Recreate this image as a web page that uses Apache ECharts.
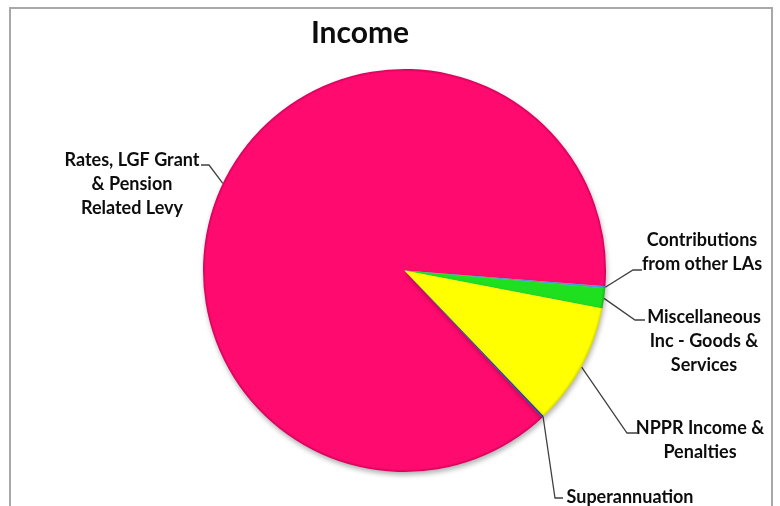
<!DOCTYPE html>
<html>
<head>
<meta charset="utf-8">
<script src="https://cdn.jsdelivr.net/npm/echarts@6/dist/echarts.min.js"></script>
<style>
  html, body { margin: 0; padding: 0; background: #fff; }
  #chart { width: 780px; height: 506px; }
</style>
</head>
<body>
<div id="chart"></div>
<script>
// Income breakdown (share of total, %)
const categories = [
  'Rates, LGF Grant\n& Pension\nRelated Levy',
  'Contributions\nfrom other LAs',
  'Miscellaneous\nInc - Goods &\nServices',
  'NPPR Income &\nPenalties',
  'Superannuation'
];
const shares = [88.25, 0.17, 1.6, 9.85, 0.14];
const sliceColors = ['#FF0A6E', '#4A9BDB', '#1EE01E', '#FFFF00', '#1F3FA0'];
const rimColors = ['#D0005A', '#2F78B8', '#14B014', '#D8D800', '#162E7A'];

// Where each label block sits (centre x, top y) and where its leader meets the text
const labelSpots = [
  { x: 132, y: 148, ex: 201, ey: 165, elbow: 8 },
  { x: 702, y: 228, ex: 642, ey: 270, elbow: -9 },
  { x: 704, y: 305, ex: 645, ey: 320, elbow: -10 },
  { x: 700, y: 416, ex: 637, ey: 433, elbow: -10 },
  { x: 630, y: 485, ex: 563, ey: 498, elbow: -8 }
];

const PIE_CX = 404.5, PIE_CY = 270.5, PIE_R = 201.5;

const chart = echarts.init(document.getElementById('chart'), null, { renderer: 'canvas' });

// Flat fill with a thin darker rim along the outer edge
function rimFill(base, rim) {
  return {
    type: 'radial', x: PIE_CX, y: PIE_CY, r: PIE_R, global: true,
    colorStops: [
      { offset: 0, color: base },
      { offset: 0.986, color: base },
      { offset: 1, color: rim }
    ]
  };
}

const pieData = categories.map((name, i) => ({
  name: name,
  value: shares[i],
  itemStyle: { color: rimFill(sliceColors[i], rimColors[i]) }
}));

chart.setOption({
  animation: false,
  backgroundColor: '#ffffff',
  title: {
    text: 'Income',
    left: 355,
    top: 13,
    textAlign: 'center',
    textStyle: { fontFamily: 'Lato', fontWeight: 'bold', fontSize: 30, color: '#0d0d0d' }
  },
  graphic: [{
    type: 'rect',
    shape: { x: 10, y: 8, width: 762, height: 530 },
    style: { fill: null, stroke: '#a8a8a8', lineWidth: 2 },
    silent: true
  }],
  series: [{
    type: 'pie',
    center: [PIE_CX, PIE_CY],
    radius: PIE_R,
    startAngle: 313.2,
    clockwise: true,
    avoidLabelOverlap: false,
    data: pieData,
    itemStyle: {
      borderWidth: 0,
      shadowColor: 'rgba(0,0,0,0.3)',
      shadowBlur: 5,
      shadowOffsetX: 1,
      shadowOffsetY: 3
    },
    label: {
      show: true,
      position: 'outside',
      formatter: '{b}',
      fontFamily: 'Lato',
      fontWeight: 'bold',
      fontSize: 18,
      lineHeight: 24,
      color: '#0d0d0d'
    },
    labelLine: {
      show: true,
      length: 10,
      length2: 10,
      lineStyle: { color: '#404040', width: 1.3 }
    },
    labelLayout: function (params) {
      const s = labelSpots[params.dataIndex];
      const start = params.labelLinePoints ? params.labelLinePoints[0] : [s.ex, s.ey];
      return {
        x: s.x,
        y: s.y,
        align: 'center',
        verticalAlign: 'top',
        labelLinePoints: [start, [s.ex + s.elbow, s.ey], [s.ex, s.ey]]
      };
    },
    emphasis: { disabled: true }
  }]
});
</script>
</body>
</html>
